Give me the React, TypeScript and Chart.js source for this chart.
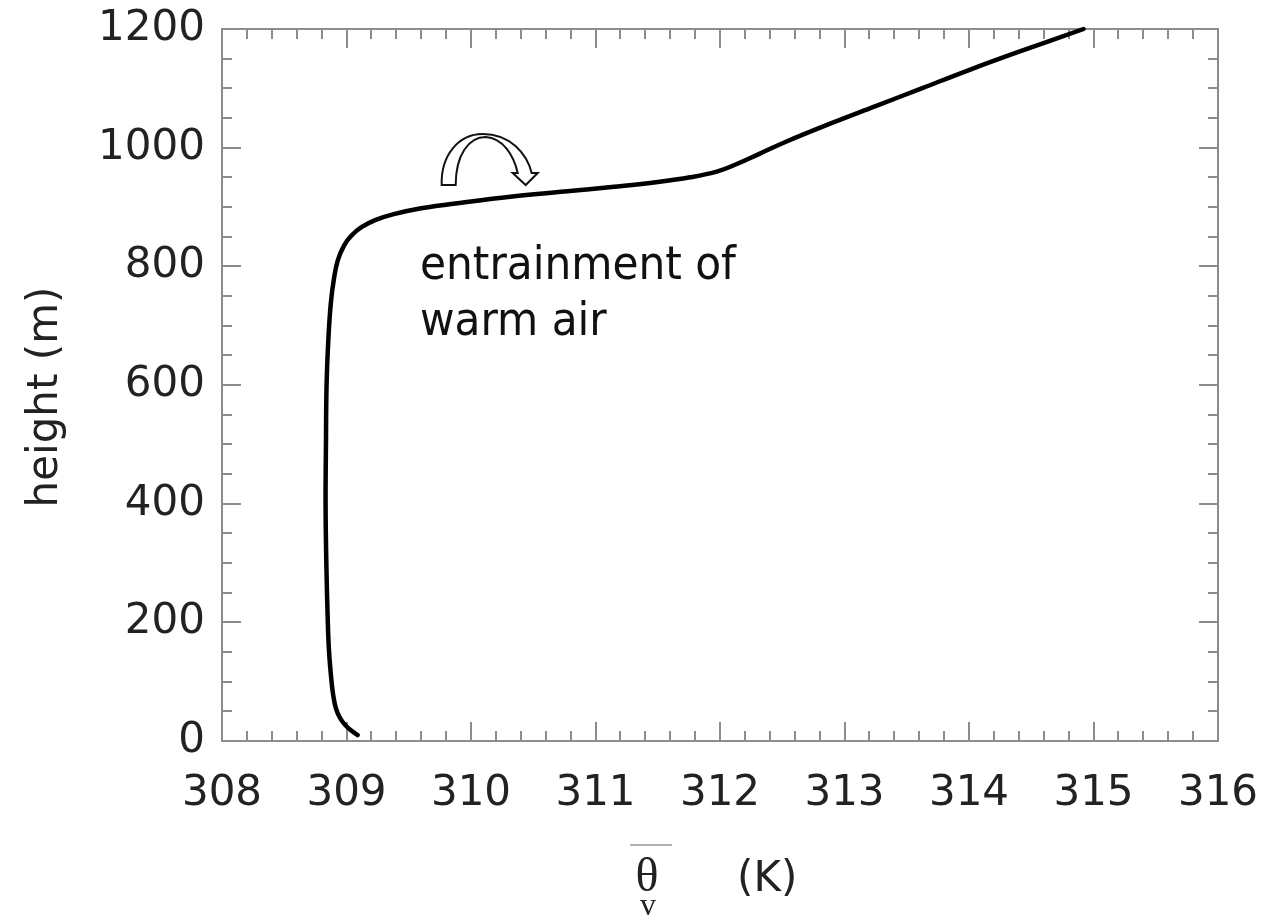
import React, { useEffect, useRef } from "react";
import { Chart, registerables } from "chart.js";

Chart.register(...registerables);

// Profile of mean virtual potential temperature vs height
const HEIGHT_M = [10, 18, 28, 40, 55, 75, 100, 150, 200, 300, 400, 500, 600, 680, 740, 780, 810, 835, 852, 866, 878, 888, 898, 908, 918, 926, 934, 942, 950, 960, 972, 990, 1010, 1040, 1070, 1100, 1130, 1160, 1200];
const THETA_V_K = [309.09, 309.035, 308.985, 308.945, 308.915, 308.895, 308.88, 308.86, 308.85, 308.838, 308.832, 308.835, 308.84, 308.855, 308.875, 308.9, 308.93, 308.98, 309.04, 309.12, 309.23, 309.38, 309.6, 309.95, 310.35, 310.75, 311.15, 311.5, 311.76, 311.98, 312.13, 312.32, 312.53, 312.88, 313.25, 313.62, 313.99, 314.38, 314.92];

const X_MIN = 308;
const X_MAX = 316;
const Y_MIN = 0;
const Y_MAX = 1200;
const X_MINOR_STEP = 0.2;
const Y_MINOR_STEP = 50;
const Y_MAJOR_STEP = 200;

const ANNOTATION_LINES = ["entrainment of", "warm air"];
const ARROW_ANCHOR = { x: 310.11, y: 937 };

const AXIS_GRAY = "#8c8c8c";
const TEXT_COLOR = "#222222";
const SANS = "'DejaVu Sans', sans-serif";

const framePlugin = {
  id: "frameTicks",
  beforeDatasetsDraw(chart: any) {
    const { ctx, chartArea, scales } = chart;
    const xs = scales.x;
    const ys = scales.y;
    ctx.save();
    ctx.strokeStyle = AXIS_GRAY;
    ctx.lineWidth = 2;
    ctx.strokeRect(chartArea.left, chartArea.top, chartArea.right - chartArea.left, chartArea.bottom - chartArea.top);
    ctx.beginPath();
    const nx = Math.round((X_MAX - X_MIN) / X_MINOR_STEP);
    for (let i = 0; i <= nx; i++) {
      const v = X_MIN + i * X_MINOR_STEP;
      const major = i % 5 === 0;
      const len = major ? 19 : 10;
      const px = Math.round(xs.getPixelForValue(v));
      ctx.moveTo(px, chartArea.bottom);
      ctx.lineTo(px, chartArea.bottom - len);
      ctx.moveTo(px, chartArea.top);
      ctx.lineTo(px, chartArea.top + len);
    }
    const ny = Math.round((Y_MAX - Y_MIN) / Y_MINOR_STEP);
    for (let i = 0; i <= ny; i++) {
      const v = Y_MIN + i * Y_MINOR_STEP;
      const major = v % Y_MAJOR_STEP === 0;
      const len = major ? 19 : 10;
      const py = Math.round(ys.getPixelForValue(v));
      ctx.moveTo(chartArea.left, py);
      ctx.lineTo(chartArea.left + len, py);
      ctx.moveTo(chartArea.right, py);
      ctx.lineTo(chartArea.right - len, py);
    }
    ctx.stroke();
    ctx.restore();
  },
  afterDraw(chart: any) {
    const { ctx, chartArea, scales } = chart;
    ctx.save();
    // y title
    ctx.fillStyle = TEXT_COLOR;
    ctx.font = `42px ${SANS}`;
    ctx.textAlign = "center";
    ctx.textBaseline = "middle";
    ctx.translate(46, (chartArea.top + chartArea.bottom) / 2 + 12);
    ctx.rotate(-Math.PI / 2);
    ctx.fillText("height (m)", 0, 0);
    ctx.restore();

    // x title: overlined theta with subscript v, then (K)
    ctx.save();
    const cx = 647;
    const base = chartArea.bottom + 150;
    ctx.fillStyle = TEXT_COLOR;
    ctx.textAlign = "center";
    ctx.textBaseline = "alphabetic";
    ctx.font = "48px 'Liberation Serif', serif";
    ctx.fillText("θ", cx, base);
    ctx.font = "32px 'Liberation Serif', serif";
    ctx.fillText("v", cx + 1, base + 24);
    ctx.strokeStyle = "#999999";
    ctx.lineWidth = 1.5;
    ctx.beginPath();
    ctx.moveTo(cx - 17, base - 46);
    ctx.lineTo(cx + 25, base - 46);
    ctx.stroke();
    ctx.textAlign = "left";
    ctx.font = `42px ${SANS}`;
    ctx.fillText("(K)", 737, base);
    ctx.restore();

    // annotation text
    ctx.save();
    ctx.fillStyle = "#111111";
    ctx.font = "47px 'DejaVu Sans Condensed', 'DejaVu Sans', sans-serif";
    ctx.textAlign = "left";
    ctx.textBaseline = "alphabetic";
    ANNOTATION_LINES.forEach((line, i) => {
      ctx.fillText(line, chartArea.left + 198, chartArea.top + 250 + i * 56);
    });
    ctx.restore();

    // curved hollow arrow
    const ax = scales.x.getPixelForValue(ARROW_ANCHOR.x);
    const ay = scales.y.getPixelForValue(ARROW_ANCHOR.y);
    ctx.save();
    ctx.translate(ax, ay);
    ctx.beginPath();
    ctx.moveTo(-43, 0);
    ctx.bezierCurveTo(-44, -30, -26, -51, -2, -51);
    ctx.bezierCurveTo(25, -51, 42, -32, 47, -12);
    ctx.lineTo(53, -12);
    ctx.lineTo(41, 0);
    ctx.lineTo(28, -12);
    ctx.lineTo(33, -12);
    ctx.bezierCurveTo(29, -30, 18, -47, 1, -48);
    ctx.bezierCurveTo(-16, -48, -29, -30, -29, 0);
    ctx.closePath();
    ctx.fillStyle = "#ffffff";
    ctx.fill();
    ctx.strokeStyle = "#111111";
    ctx.lineWidth = 2;
    ctx.lineJoin = "miter";
    ctx.stroke();
    ctx.restore();
  },
};

export default function App() {
  const ref = useRef<HTMLCanvasElement | null>(null);
  useEffect(() => {
    document.body.style.margin = "0";
    const canvas = ref.current;
    if (!canvas) return;
    const data = HEIGHT_M.map((h, i) => ({ x: THETA_V_K[i], y: h }));
    const chart = new Chart(canvas, {
      type: "line",
      data: {
        datasets: [
          {
            data,
            borderColor: "#000000",
            borderWidth: 4.5,
            pointRadius: 0,
            fill: false,
            tension: 0.4,
            borderJoinStyle: "round",
            borderCapStyle: "round",
            clip: false as any,
          },
        ],
      },
      options: {
        animation: false,
        responsive: false,
        events: [],
        layout: { padding: { top: 29, right: 46, left: 0, bottom: 0 } },
        plugins: { legend: { display: false }, tooltip: { enabled: false }, title: { display: false } },
        scales: {
          x: {
            type: "linear",
            position: "bottom",
            min: X_MIN,
            max: X_MAX,
            grid: { display: false, drawTicks: false },
            border: { display: false },
            ticks: { stepSize: 1, padding: 28, color: TEXT_COLOR, font: { family: SANS, size: 42 } },
            afterFit: (s: any) => {
              s.height = 177;
              s.paddingLeft = 0;
              s.paddingRight = 0;
            },
          },
          y: {
            type: "linear",
            position: "left",
            min: Y_MIN,
            max: Y_MAX,
            grid: { display: false, drawTicks: false },
            border: { display: false },
            ticks: {
              stepSize: 200,
              padding: 17,
              color: TEXT_COLOR,
              font: { family: SANS, size: 42 },
              callback: (v: any) => String(v),
            },
            afterFit: (s: any) => {
              s.width = 222;
              s.paddingTop = 0;
              s.paddingBottom = 0;
            },
          },
        },
      },
      plugins: [framePlugin],
    });
    return () => chart.destroy();
  }, []);
  return (
    <div style={{ width: 1264, height: 918 }}>
      <canvas ref={ref} width={1264} height={918} style={{ display: "block" }} />
    </div>
  );
}
